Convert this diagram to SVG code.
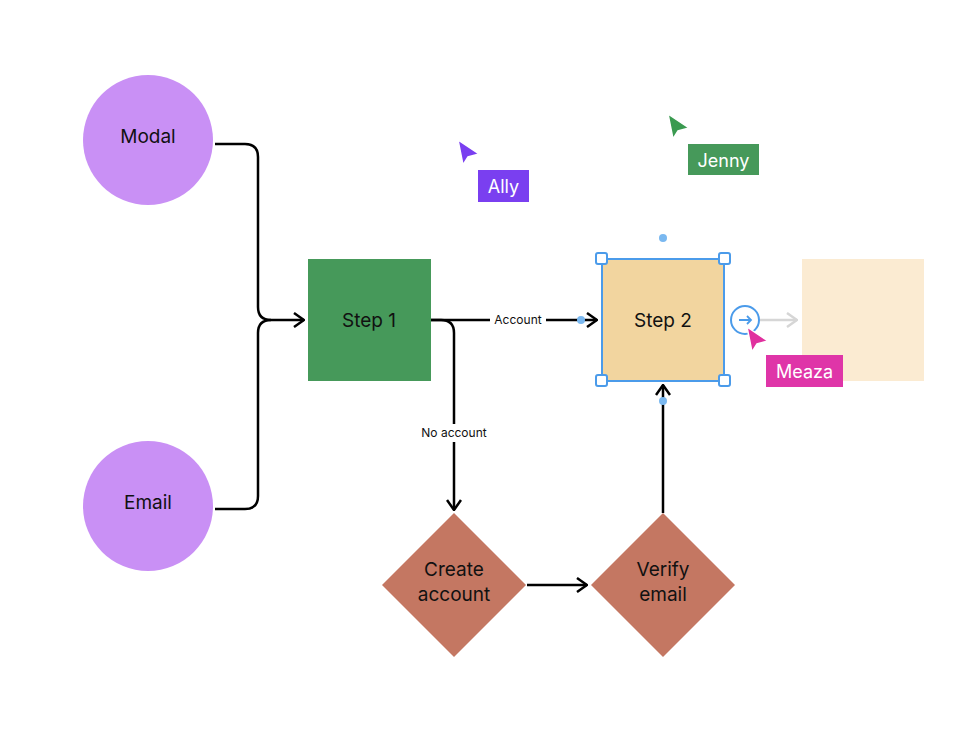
<svg xmlns="http://www.w3.org/2000/svg" width="980" height="744" viewBox="0 0 980 744">
<defs>
<marker id="ah" viewBox="0 0 12 16" refX="11" refY="8" markerWidth="12" markerHeight="16" markerUnits="userSpaceOnUse" orient="auto"><path d="M1 1 L11 8 L1 15" fill="none" stroke="#000" stroke-width="2.5"/></marker>
<marker id="ahg" viewBox="0 0 12 16" refX="11" refY="8" markerWidth="12" markerHeight="16" markerUnits="userSpaceOnUse" orient="auto"><path d="M1 1 L11 8 L1 15" fill="none" stroke="#d6d6d6" stroke-width="2.5"/></marker>
</defs>
<style>
text{font-family:Inter,"Noto Sans",sans-serif;fill:#111}
.c{fill:#c990f5}
.t{font-size:19px}
.l{font-size:12px}
.e{fill:none;stroke:#000;stroke-width:2.5}
.h{fill:#fff;stroke:#4b9bea;stroke-width:2}
.lab{font-size:18px;fill:#fff}
</style>
<rect width="980" height="744" fill="#fff"/>
<g id="connectors">
<path class="e" d="M215 144 H245 Q258 144 258 157 V307 Q258 320 271 320 H304" marker-end="url(#ah)"/>
<path class="e" d="M215 509 H245 Q258 509 258 496 V333 Q258 320 271 320"/>
<path class="e" d="M431 320 H597" marker-end="url(#ah)"/>
<path class="e" d="M431 320 H441 Q454 320 454 333 V510" marker-end="url(#ah)"/>
<path class="e" d="M527 585 H587" marker-end="url(#ah)"/>
<path class="e" d="M663 513 V385" marker-end="url(#ah)"/>
<path d="M760 320 H797" fill="none" stroke="#d6d6d6" stroke-width="2.5" marker-end="url(#ahg)"/>
<rect x="490" y="311" width="56" height="18" fill="#fff"/>
<text class="l" x="518" y="324" text-anchor="middle">Account</text>
<rect x="413" y="424" width="82" height="18" fill="#fff"/>
<text class="l" x="454" y="437" text-anchor="middle">No account</text>
</g>
<g id="modal"><circle class="c" cx="148" cy="140" r="65"/><text class="t" x="148" y="143" text-anchor="middle">Modal</text></g>
<g id="email"><circle class="c" cx="148" cy="506" r="65"/><text class="t" x="148" y="509" text-anchor="middle">Email</text></g>
<g id="step1"><rect x="308" y="259" width="123" height="122" fill="#46995a"/><text class="t" x="369" y="327" text-anchor="middle">Step 1</text></g>
<g id="step2"><rect x="602" y="259" width="122" height="122" fill="#f2d59f" stroke="#4b9bea" stroke-width="2"/><text class="t" x="663" y="327" text-anchor="middle">Step 2</text>
<rect class="h" x="596" y="253" width="11" height="11" rx="2"/><rect class="h" x="719" y="253" width="11" height="11" rx="2"/><rect class="h" x="596" y="375" width="11" height="11" rx="2"/><rect class="h" x="719" y="375" width="11" height="11" rx="2"/>
<circle cx="663" cy="238" r="4" fill="#7ab8f0"/><circle cx="581" cy="320" r="4" fill="#7ab8f0"/><circle cx="663" cy="401" r="4" fill="#7ab8f0"/>
<circle cx="745" cy="320" r="14" fill="#fff" stroke="#4b9bea" stroke-width="2"/><path d="M739 320 H751 M747 316 L751 320 L747 324" fill="none" stroke="#4b9bea" stroke-width="1.8"/>
</g>
<g id="ghost"><rect x="802" y="259" width="122" height="122" fill="#fbebd2"/></g>
<g id="create"><path d="M454 513 L526 585 L454 657 L382 585 Z" fill="#c47762"/><text class="t" x="454" y="576" text-anchor="middle">Create</text><text class="t" x="454" y="601" text-anchor="middle">account</text></g>
<g id="verify"><path d="M663 513 L735 585 L663 657 L591 585 Z" fill="#c47762"/><text class="t" x="663" y="576" text-anchor="middle">Verify</text><text class="t" x="663" y="601" text-anchor="middle">email</text></g>
<g id="ally"><path d="M458 140 L479 154 L468 157 L463 165 Z" fill="#7a3ff0" stroke="#fff" stroke-width="1.5"/><rect x="478" y="170" width="51" height="32" fill="#7a3ff0"/><text class="lab" x="503.5" y="193" text-anchor="middle">Ally</text></g>
<g id="jenny"><path d="M668 114 L689 128 L678 131 L673 139 Z" fill="#3a9a50" stroke="#fff" stroke-width="1.5"/><rect x="688" y="144" width="71" height="31" fill="#46995a"/><text class="lab" x="723.5" y="167" text-anchor="middle">Jenny</text></g>
<g id="meaza"><path d="M747 327 L768 341 L757 344 L752 352 Z" fill="#e0309e" stroke="#fff" stroke-width="1.5"/><rect x="766" y="355" width="77" height="32" fill="#df35a8"/><text class="lab" x="804.5" y="378" text-anchor="middle">Meaza</text></g>
</svg>
